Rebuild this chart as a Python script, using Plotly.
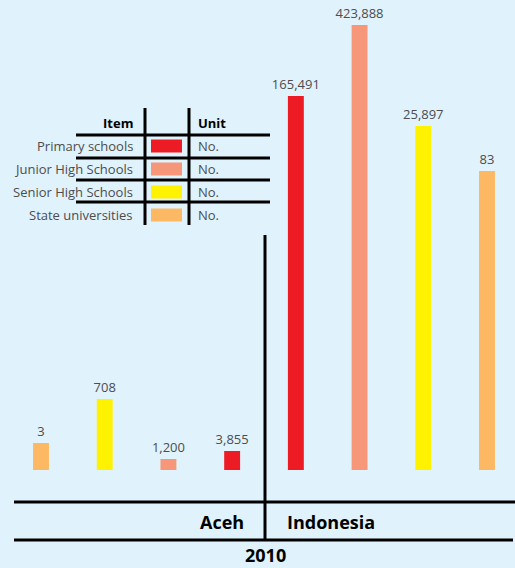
import plotly.graph_objects as go

W, H = 515, 568

# ---- data ----
regions = ["Aceh", "Aceh", "Aceh", "Aceh", "Indonesia", "Indonesia", "Indonesia", "Indonesia"]
items = ["State universities", "Senior High Schools", "Junior High Schools", "Primary schools",
         "Primary schools", "Junior High Schools", "Senior High Schools", "State universities"]
values = [3, 708, 1200, 3855, 165491, 423888, 25897, 83]
# drawn (visual) bar heights as read from the infographic
bar_heights = [27, 71, 11, 19, 374, 445, 344, 299]

legend_items = ["Primary schools", "Junior High Schools", "Senior High Schools", "State universities"]
legend_units = ["No.", "No.", "No.", "No."]
year_label = "2010"

colors = {
    "Primary schools": "#ED1C24",
    "Junior High Schools": "#F7977A",
    "Senior High Schools": "#FFF200",
    "State universities": "#FDB863",
}

BG = "#E0F2FC"
TXT = "#4d4d4d"
FONT = "Open Sans"

cats = [f"{r} | {i}" for r, i in zip(regions, items)]
labels = [f"{v:,}" for v in values]

fig = go.Figure()
fig.add_trace(go.Bar(
    x=cats, y=bar_heights,
    marker=dict(color=[colors[i] for i in items], line=dict(width=0)),
    width=0.25,
    text=labels, textposition="outside", constraintext="none",
    textfont=dict(family=FONT, size=13, color=TXT),
    cliponaxis=False, hoverinfo="skip",
))

def px(x):
    return x / W

def py(y):
    return 1 - y / H

shapes = []
def line(x0, y0, x1, y1, w=3):
    shapes.append(dict(type="line", xref="paper", yref="paper",
                       x0=px(x0), y0=py(y0), x1=px(x1), y1=py(y1),
                       line=dict(color="black", width=w)))

# bottom frame
line(14, 502, 515, 502)
line(14, 540, 513, 540)
line(265, 235, 265, 540)

# legend table
line(145, 108, 145, 225)
line(189, 108, 189, 225)
for yy in [135, 158, 180, 202]:
    line(76, yy, 270, yy)

annotations = []
def txt(x, y, s, anchor="right", size=13, bold=False, color=TXT):
    annotations.append(dict(
        xref="paper", yref="paper", x=px(x), y=py(y), text=f"<b>{s}</b>" if bold else s,
        showarrow=False, xanchor=anchor, yanchor="middle",
        font=dict(family=FONT, size=size, color=color)))

txt(135, 123, "Item", bold=True, color="black")
txt(196, 123, "Unit", anchor="left", bold=True, color="black")
row_y = [146, 169, 192, 215]
for it, un, yy in zip(legend_items, legend_units, row_y):
    txt(135, yy, it)
    txt(196, yy, un, anchor="left")
    shapes.append(dict(type="rect", xref="paper", yref="paper",
                       x0=px(151), x1=px(182), y0=py(yy - 6.5), y1=py(yy + 6.5),
                       fillcolor=colors[it], line=dict(width=0)))

txt(246, 522, "Aceh", size=18, bold=True, color="black")
txt(285, 522, "Indonesia", anchor="left", size=18, bold=True, color="black")
txt(265, 555, year_label, anchor="center", size=18, bold=True, color="black")

spacing = (487 - 41) / 7
fig.update_layout(
    width=W, height=H,
    margin=dict(l=0, r=0, t=0, b=0),
    paper_bgcolor=BG, plot_bgcolor=BG,
    showlegend=False,
    xaxis=dict(type="category", categoryorder="array", categoryarray=cats,
               range=[-41 / spacing, (W - 41) / spacing], visible=False, fixedrange=True),
    yaxis=dict(range=[-(H - 470), 470], visible=False, fixedrange=True),
    shapes=shapes, annotations=annotations,
    font=dict(family=FONT),
)

fig.write_html("out.html", config={"displayModeBar": False, "staticPlot": True},
               post_script="document.body.style.margin='0';document.body.style.overflow='hidden';")
